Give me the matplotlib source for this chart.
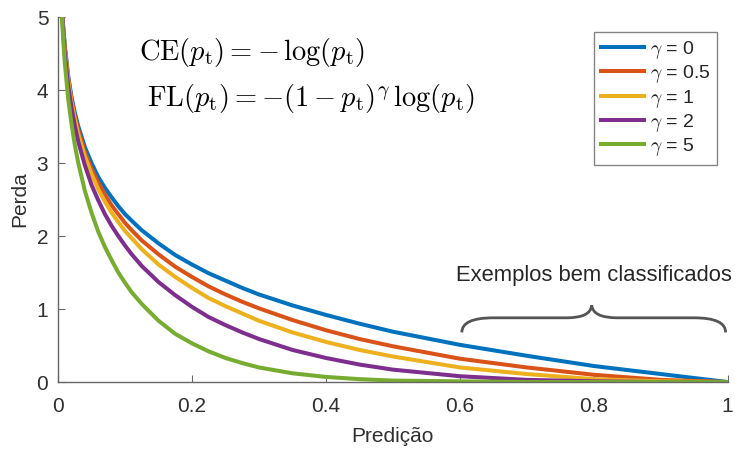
import numpy as np
import matplotlib
matplotlib.use('Agg')
import matplotlib.pyplot as plt
from matplotlib.path import Path
from matplotlib.patches import PathPatch

plt.rcParams['font.family'] = ['Liberation Sans', 'DejaVu Sans']
plt.rcParams['mathtext.fontset'] = 'cm'

# valores (predição p_t, perda)
pred = [0.005, 0.0075, 0.01, 0.015, 0.02, 0.025, 0.03, 0.04, 0.05, 0.06, 0.07, 0.08, 0.09, 0.1,
        0.11, 0.125, 0.15, 0.175, 0.2, 0.225, 0.25, 0.275, 0.3, 0.35, 0.4, 0.45, 0.5, 0.6,
        0.7, 0.8, 0.9, 1.0]
loss_g0 = [5.30, 4.89, 4.61, 4.20, 3.91, 3.69, 3.51, 3.22, 3.00, 2.81, 2.66, 2.53, 2.41, 2.30,
           2.21, 2.08, 1.90, 1.74, 1.61, 1.49, 1.39, 1.29, 1.20, 1.05, 0.92, 0.80, 0.69, 0.51,
           0.36, 0.22, 0.11, 0.0]
loss_g05 = [5.29, 4.87, 4.58, 4.17, 3.87, 3.64, 3.46, 3.15, 2.92, 2.73, 2.57, 2.42, 2.30, 2.18,
            2.08, 1.94, 1.75, 1.58, 1.44, 1.31, 1.20, 1.10, 1.01, 0.85, 0.71, 0.59, 0.49, 0.32,
            0.20, 0.10, 0.03, 0.0]
loss_g1 = [5.27, 4.85, 4.56, 4.14, 3.83, 3.60, 3.40, 3.09, 2.85, 2.64, 2.47, 2.32, 2.19, 2.07,
           1.97, 1.82, 1.61, 1.44, 1.29, 1.15, 1.04, 0.94, 0.84, 0.68, 0.55, 0.44, 0.35, 0.20,
           0.11, 0.04, 0.01, 0.0]
loss_g2 = [5.25, 4.82, 4.51, 4.07, 3.76, 3.51, 3.30, 2.97, 2.70, 2.49, 2.30, 2.14, 2.00, 1.87,
           1.75, 1.59, 1.37, 1.19, 1.03, 0.89, 0.78, 0.68, 0.59, 0.44, 0.33, 0.24, 0.17, 0.08,
           0.03, 0.01, 0.0, 0.0]
loss_g5 = [5.17, 4.71, 4.38, 3.89, 3.54, 3.25, 3.01, 2.62, 2.32, 2.06, 1.85, 1.67, 1.50, 1.36,
           1.23, 1.07, 0.84, 0.66, 0.53, 0.42, 0.33, 0.26, 0.20, 0.12, 0.07, 0.04, 0.02, 0.01,
           0.0, 0.0, 0.0, 0.0]

series = [loss_g0, loss_g05, loss_g1, loss_g2, loss_g5]
labels = [r'$\gamma$ = 0', r'$\gamma$ = 0.5', r'$\gamma$ = 1', r'$\gamma$ = 2', r'$\gamma$ = 5']
colors = ['#0072BD', '#D95319', '#EDB120', '#7E2F8E', '#77AC30']

fig = plt.figure(figsize=(7.35, 4.5), dpi=100)
ax = fig.add_axes([0.079, 0.151, 0.911, 0.811])

for y, lab, c in zip(series, labels, colors):
    ax.plot(pred, y, color=c, lw=2.9, label=lab, solid_joinstyle='round')

ax.set_xlim(0, 1)
ax.set_ylim(0, 5)
ax.set_xticks([0, 0.2, 0.4, 0.6, 0.8, 1])
ax.set_xticklabels(['0', '0.2', '0.4', '0.6', '0.8', '1'])
ax.set_yticks([0, 1, 2, 3, 4, 5])
ax.spines['top'].set_visible(False)
ax.spines['right'].set_visible(False)
for s in ['left', 'bottom']:
    ax.spines[s].set_color('#666666')
    ax.spines[s].set_linewidth(1.0)
ax.tick_params(direction='in', length=5, width=0.8, color='#666666',
               labelsize=15, labelcolor='#303030', pad=7)
ax.tick_params(axis='x', pad=11)
ax.set_xlabel('Predição', fontsize=15, color='#303030', labelpad=8)
ax.set_ylabel('Perda', fontsize=15, color='#303030', labelpad=5)

# formulas
ax.text(0.121, 4.41, r'$\mathrm{CE}(p_{\mathrm{t}}) = -\,\log(p_{\mathrm{t}})$', fontsize=20.5, color='black')
ax.text(0.133, 3.78, r'$\mathrm{FL}(p_{\mathrm{t}}) = -(1-p_{\mathrm{t}})^{\gamma}\,\log(p_{\mathrm{t}})$',
        fontsize=20.5, color='black')

leg = ax.legend(loc='upper right', bbox_to_anchor=(0.984, 0.959), fontsize=14, frameon=True,
                fancybox=False, edgecolor='#666666', handlelength=2.2, handletextpad=0.3,
                labelspacing=0.12, borderpad=0.35, borderaxespad=0)
leg.get_frame().set_linewidth(1.0)
for t in leg.get_texts():
    t.set_color('#262626')

# chave "Exemplos bem classificados"
verts = [(0.603, 0.68), (0.603, 0.88), (0.65, 0.88),
         (0.76, 0.88), (0.795, 0.88), (0.797, 1.05),
         (0.799, 0.88), (0.835, 0.88),
         (0.95, 0.88), (0.997, 0.88), (0.997, 0.68)]
codes = [Path.MOVETO, Path.CURVE3, Path.CURVE3,
         Path.LINETO, Path.CURVE3, Path.CURVE3,
         Path.CURVE3, Path.CURVE3,
         Path.LINETO, Path.CURVE3, Path.CURVE3]
ax.add_patch(PathPatch(Path(verts, codes), fill=False, lw=2.0, color='#555555', clip_on=False))
ax.text(0.8, 1.38, 'Exemplos bem classificados', fontsize=15.8, ha='center', color='#262626')

fig.savefig('out.png', dpi=100)
